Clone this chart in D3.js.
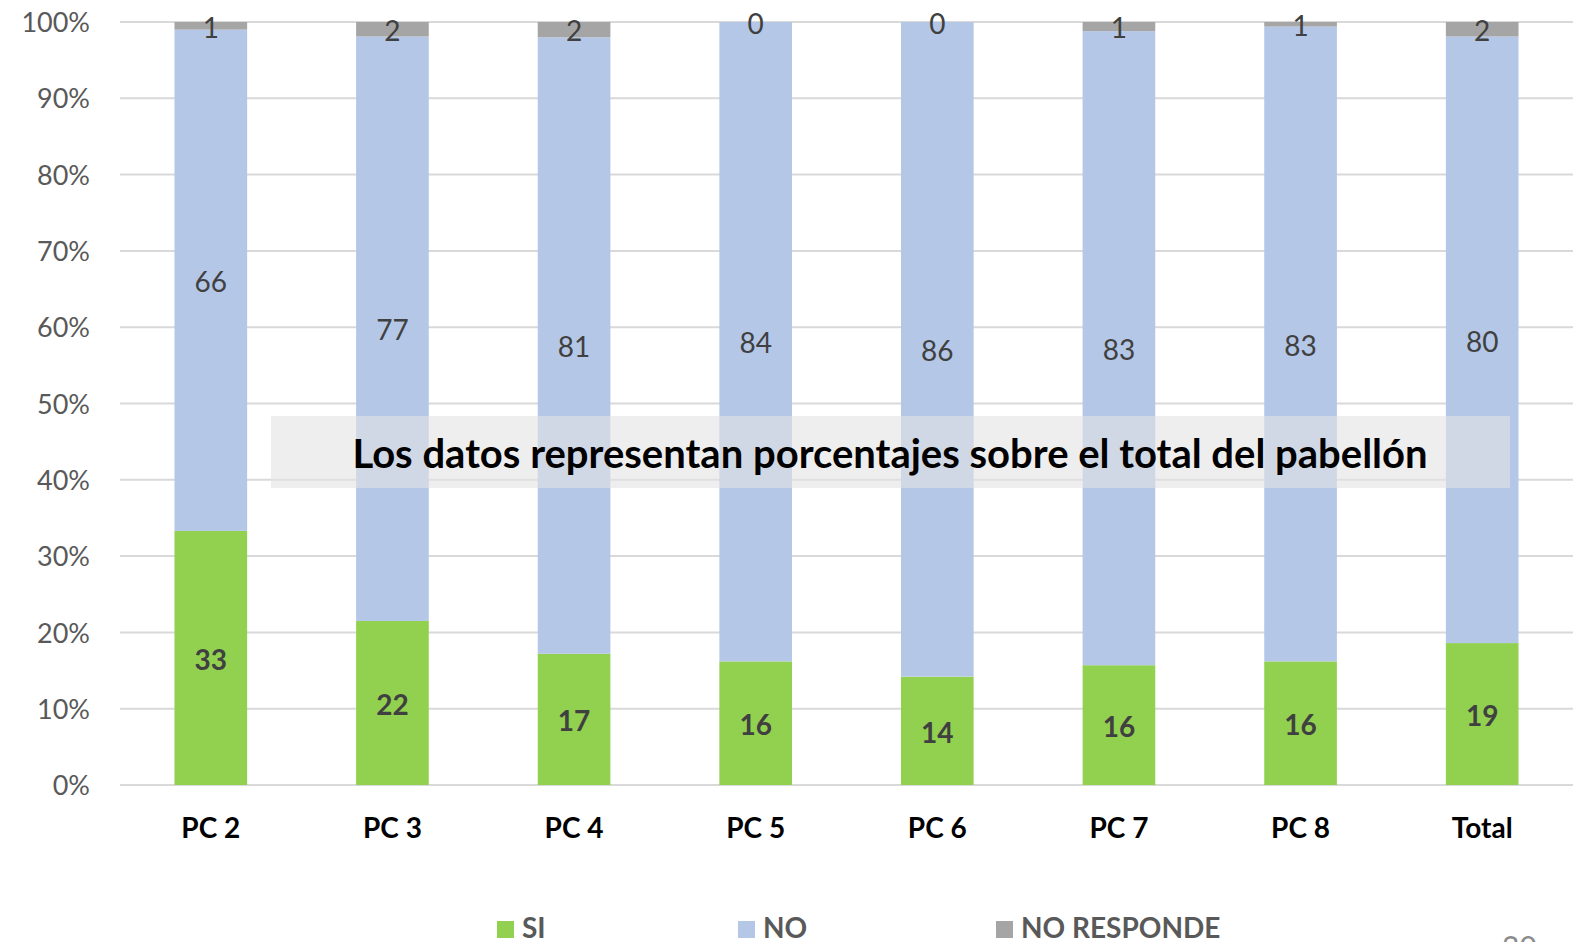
<!DOCTYPE html>
<html>
<head>
<meta charset="utf-8">
<script src="https://cdn.jsdelivr.net/npm/d3@7"></script>
<style>
	html, body { margin: 0; padding: 0; background: #fff; }
	svg { display: block; font-family: Lato, "Open Sans", sans-serif; }
</style>
</head>
<body>
<svg id="chart" width="1578" height="942"></svg>
<script>

// values in percent of each pavilion
var categories = ['PC 2', 'PC 3', 'PC 4', 'PC 5', 'PC 6', 'PC 7', 'PC 8', 'Total'];
var siValues = [33.3, 21.5, 17.2, 16.2, 14.2, 15.7, 16.2, 18.6];
var noValues = [65.7, 76.6, 80.8, 83.8, 85.8, 83.1, 83.2, 79.5];
var nrValues = [1.0, 1.9, 2.0, 0.0, 0.0, 1.2, 0.6, 1.9];
var seriesNames = ['SI', 'NO', 'NO RESPONDE'];
var yTicks = [0, 10, 20, 30, 40, 50, 60, 70, 80, 90, 100];
var note = 'Los datos representan porcentajes sobre el total del pabellón';

var colors = { 'SI': '#92d050', 'NO': '#b4c7e7', 'NO RESPONDE': '#a5a5a5' };

var rows = categories.map(function(c, i) {
	return { cat: c, 'SI': siValues[i], 'NO': noValues[i], 'NO RESPONDE': nrValues[i] };
});

var svg = d3.select('#chart');

var x = d3.scaleBand().domain(categories).range([120, 1573]).paddingInner(0.6).paddingOuter(0.3);
var y = d3.scaleLinear().domain([0, 100]).range([785, 22]);

// gridlines
svg.append('g').selectAll('line')
	.data(yTicks)
	.enter().append('line')
	.attr('x1', 120).attr('x2', 1573)
	.attr('y1', function(d) { return y(d); })
	.attr('y2', function(d) { return y(d); })
	.attr('stroke', '#d9d9d9')
	.attr('stroke-width', 2);

// y axis labels
var yAxis = d3.axisLeft(y).tickValues(yTicks).tickSize(0).tickPadding(0)
	.tickFormat(function(d) { return d + '%'; });
var gy = svg.append('g').attr('transform', 'translate(90,1)').call(yAxis);
gy.select('.domain').remove();
gy.selectAll('text')
	.attr('font-family', 'Lato, sans-serif')
	.attr('font-size', 27)
	.attr('fill', '#595959');

var stack = d3.stack().keys(seriesNames);
var layers = stack(rows);

var layer = svg.append('g').selectAll('g')
	.data(layers)
	.enter().append('g')
	.attr('fill', function(d) { return colors[d.key]; });

layer.selectAll('rect')
	.data(function(d) { return d; })
	.enter().append('rect')
	.attr('x', function(d) { return x(d.data.cat); })
	.attr('width', x.bandwidth())
	.attr('y', function(d) { return y(d[1]); })
	.attr('height', function(d) { return y(d[0]) - y(d[1]); });

// value labels, centred in each segment
layers.forEach(function(l) {
	svg.append('g').selectAll('text')
		.data(l)
		.enter().append('text')
		.attr('x', function(d) { return x(d.data.cat) + x.bandwidth() / 2; })
		.attr('y', function(d) { return (y(d[0]) + y(d[1])) / 2; })
		.attr('dy', '0.42em')
		.attr('text-anchor', 'middle')
		.attr('font-size', 28)
		.attr('font-weight', l.key === 'SI' ? 'bold' : 'normal')
		.attr('fill', '#404040')
		.text(function(d) { return Math.round(d[1] - d[0]); });
});

// x axis labels
var xAxis = d3.axisBottom(x).tickSize(0).tickPadding(0);
var gx = svg.append('g').attr('transform', 'translate(0,818)').call(xAxis);
gx.select('.domain').remove();
gx.selectAll('text')
	.attr('dy', '0.72em')
	.attr('font-family', 'Lato, sans-serif')
	.attr('font-size', 28)
	.attr('font-weight', 'bold')
	.attr('fill', '#000');

// note box over the bars
svg.append('rect')
	.attr('x', 271).attr('y', 416)
	.attr('width', 1239).attr('height', 72)
	.attr('fill', '#e3e3e3')
	.attr('fill-opacity', 0.61);

svg.append('text')
	.attr('x', 890).attr('y', 468)
	.attr('text-anchor', 'middle')
	.attr('font-size', 40)
	.attr('font-weight', 'bold')
	.attr('fill', '#000')
	.text(note);

// legend
var legendX = [497, 738, 996];
var legend = svg.append('g').selectAll('g')
	.data(seriesNames)
	.enter().append('g')
	.attr('transform', function(d, i) { return 'translate(' + legendX[i] + ',921)'; });

legend.append('rect')
	.attr('width', 17).attr('height', 17)
	.attr('fill', function(d) { return colors[d]; });

legend.append('text')
	.attr('x', 25).attr('y', 17)
	.attr('font-size', 28)
	.attr('font-weight', 'bold')
	.attr('fill', '#595959')
	.text(function(d) { return d; });

// page number, mostly cut off at the bottom edge
svg.append('text')
	.attr('x', 1502).attr('y', 958)
	.attr('font-size', 30)
	.attr('fill', '#8c8c8c')
	.text('20');

</script>
</body>
</html>
